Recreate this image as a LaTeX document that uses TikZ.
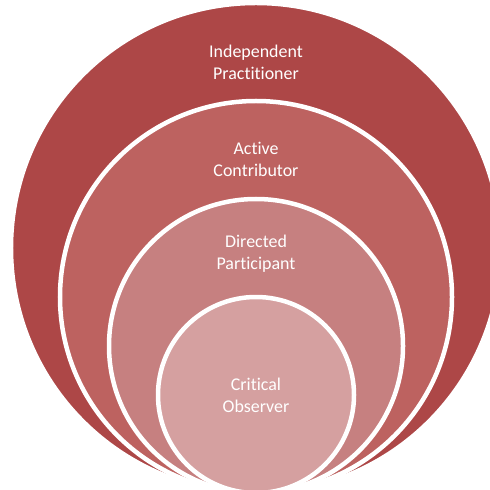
\documentclass[tikz,border=0pt]{standalone}
\usepackage{fontspec}
\setmainfont{Carlito}[RawFeature=-liga]
\definecolor{ringouter}{HTML}{AD4747}
\definecolor{ringactive}{HTML}{BD6260}
\definecolor{ringdirected}{HTML}{C68080}
\definecolor{ringcore}{HTML}{D5A0A0}
\begin{document}
\begin{tikzpicture}[x=1bp,y=-1bp,
  ring/.style={fill=#1, draw=white, line width=4.5bp},
  lbl/.style={text=white, align=center, inner sep=0pt,
    font=\fontsize{18}{22}\selectfont}]
  \useasboundingbox (0,0) rectangle (490,490);
  \clip (0,0) rectangle (490,490);

  % rings, all touching at the bottom
  \filldraw[ring=ringouter] (256,248) circle (245bp);
  \filldraw[ring=ringactive] (256,297) circle (196bp);
  \filldraw[ring=ringdirected] (256,346) circle (147bp);
  \filldraw[ring=ringcore] (256,395) circle (98bp);

  \node[lbl] (practitioner) at (256,62.5) {Independent\\Practitioner};
  \node[lbl] (contributor) at (256,159) {Active\\Contributor};
  \node[lbl] (participant) at (256,254) {Directed\\Participant};
  \node[lbl] (observer) at (256,395) {Critical\\Observer};

\end{tikzpicture}
\end{document}
